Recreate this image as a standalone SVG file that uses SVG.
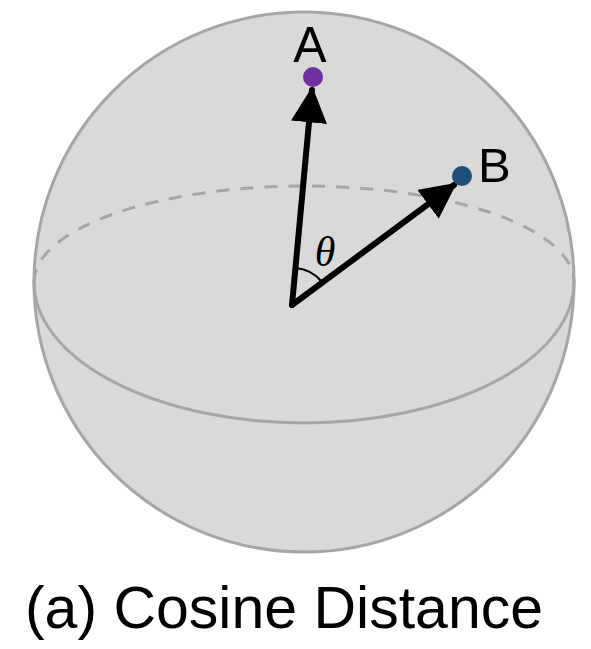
<svg xmlns="http://www.w3.org/2000/svg" width="591" height="649" viewBox="0 0 591 649">
<style>
.lbl{font-family:"Liberation Sans",Arial,sans-serif;fill:#000}
.edge{stroke:#a6a6a6;stroke-width:3;fill:none}
.vec{stroke:#000;stroke-width:6;fill:none;stroke-linecap:round}
</style>
<defs>
<marker id="ah" viewBox="0 0 10 10" refX="9" refY="5" markerWidth="6" markerHeight="6" markerUnits="strokeWidth" orient="auto">
<path d="M0,0 L10,5 L0,10 Z" fill="#000"/>
</marker>
</defs>
<rect width="591" height="649" fill="#fff"/>
<g id="sphere">
<circle cx="304" cy="282" r="270" class="edge" style="fill:#d9d9d9"/>
<path d="M34,282 A270,96 0 0 1 574,282" class="edge" stroke-dasharray="13,11"/>
<path d="M34,282 A270,141 0 0 0 574,282" class="edge"/>
</g>
<g id="connectors">
<line x1="292" y1="305" x2="312" y2="90" class="vec" marker-end="url(#ah)"/>
<line x1="292" y1="305" x2="454" y2="185" class="vec" marker-end="url(#ah)"/>
<path d="M296,268 A38,38 0 0 1 322,282" stroke="#000" stroke-width="2" fill="none"/>
<text x="325" y="266" font-family="'Liberation Serif','Times New Roman',serif" font-style="italic" font-size="42" text-anchor="middle">θ</text>
</g>
<g id="pointA">
<circle cx="313" cy="77" r="10" fill="#7030a0"/>
<text x="310" y="62" class="lbl" font-size="50" text-anchor="middle">A</text>
</g>
<g id="pointB">
<circle cx="462" cy="176" r="10" fill="#1f4e79"/>
<text x="478" y="182" class="lbl" font-size="49">B</text>
</g>
<g id="caption">
<text x="284" y="628" class="lbl" font-size="59" text-anchor="middle">(a) Cosine Distance</text>
</g>
</svg>
